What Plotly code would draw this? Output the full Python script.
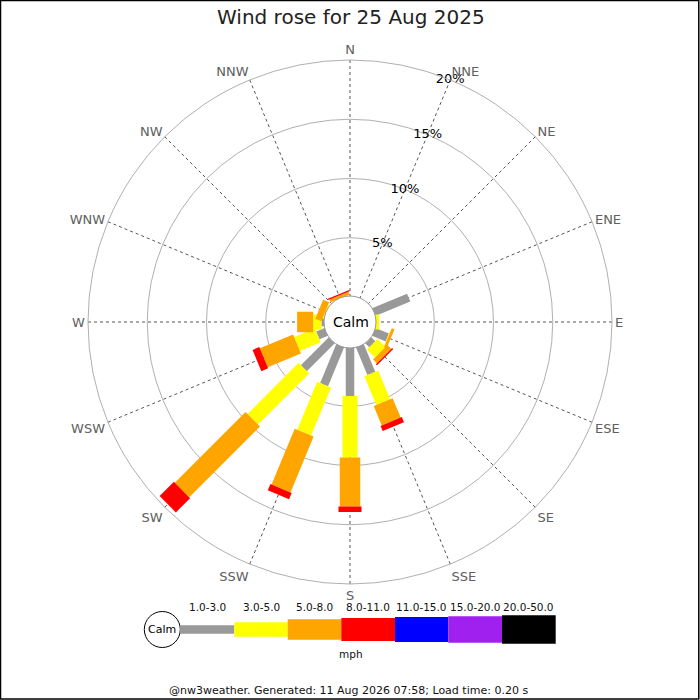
import plotly.graph_objects as go

# ---------------- data ----------------
directions = ["N", "NNE", "NE", "ENE", "E", "ESE", "SE", "SSE",
              "S", "SSW", "SW", "WSW", "W", "WNW", "NW", "NNW"]
dir_angles = [0, 22.5, 45, 67.5, 90, 112.5, 135, 157.5,
              180, 202.5, 225, 247.5, 270, 292.5, 315, 337.5]

speed_bins = ["1.0-3.0", "3.0-5.0", "5.0-8.0", "8.0-11.0",
              "11.0-15.0", "15.0-20.0", "20.0-50.0"]
speed_unit = "mph"

# percentage of time per direction, per speed bin
f_1_3 = [0, 0, 0, 3.25, 0, 1.3, 0.55, 2.59, 4.13, 3.6, 3.4, 0.83, 0.3, 0, 0, 0]
f_3_5 = [0, 0, 0, 0, 0.35, 0.05, 0.95, 2.62, 5.2, 4.4, 6.1, 1.9, 0.7, 0.15, 0, 0.05]
f_5_8 = [0, 0, 0, 0, 0, 0.25, 0.45, 1.77, 4.13, 5.1, 8.44, 3.04, 1.35, 0.55, 0, 0.25]
f_8_11 = [0, 0, 0, 0, 0, 0, 0.13, 0.46, 0.47, 0.57, 1.7, 0.62, 0, 0, 0, 0.12]
f_11_15 = [0] * 16
f_15_20 = [0] * 16
f_20_50 = [0] * 16
series = [f_1_3, f_3_5, f_5_8, f_8_11, f_11_15, f_15_20, f_20_50]

radial_ticks = [5, 10, 15, 20]
radial_labels = ["5%", "10%", "15%", "20%"]

title_text = "Wind rose for 25 Aug 2025"
footer_text = "@nw3weather. Generated: 11 Aug 2026 07:58; Load time: 0.20 s"

# ---------------- style ----------------
colors = ["#999999", "#ffff00", "#ffa500", "#ff0000", "#0000ff", "#a020f0", "#000000"]
bar_px = [8.5, 15, 20.5, 23, 25, 27, 28.5]
FONT = "DejaVu Sans"
W = H = 700


def px(x):
    return x / W


def py(y):
    return 1 - y / H


fig = go.Figure()

cum = [0.0] * len(directions)
for k, vals in enumerate(series):
    rr, tt = [], []
    for i, v in enumerate(vals):
        if v > 0:
            rr += [cum[i], cum[i] + v, None]
            tt += [dir_angles[i], dir_angles[i], None]
            cum[i] += v
    if rr:
        fig.add_trace(go.Scatterpolar(
            r=rr, theta=tt, mode="lines",
            line=dict(color=colors[k], width=bar_px[k]),
            connectgaps=False, hoverinfo="skip", showlegend=False))

# radial tick labels centered on the NNE spoke
fig.add_trace(go.Scatterpolar(
    r=radial_ticks, theta=[22.5] * len(radial_ticks), mode="text",
    text=radial_labels, textposition="middle center",
    textfont=dict(family=FONT, size=13, color="#000000"),
    cliponaxis=False, hoverinfo="skip", showlegend=False))

cx, cy, R = 350, 322, 262
hole_px = 25

fig.update_layout(
    width=W, height=H,
    margin=dict(l=0, r=0, t=0, b=0),
    paper_bgcolor="white",
    showlegend=False,
    font=dict(family=FONT),
    polar=dict(
        domain=dict(x=[px(cx - R), px(cx + R)], y=[py(cy + R), py(cy - R)]),
        hole=hole_px / R,
        bgcolor="white",
        radialaxis=dict(range=[0, 20], tickvals=radial_ticks, showticklabels=False,
                        ticks="", showline=False, gridcolor="#b0b0b0", gridwidth=1),
        angularaxis=dict(rotation=90, direction="clockwise", thetaunit="degrees",
                         tickvals=dir_angles, ticktext=directions, ticks="",
                         showline=True, linecolor="#b0b0b0", linewidth=1,
                         gridcolor="#555555", griddash="dot", gridwidth=1,
                         tickfont=dict(family=FONT, size=13, color="#606060")),
    ),
)

shapes = []
annotations = []

# calm circle in the centre
shapes.append(dict(type="circle", xref="paper", yref="paper", layer="above",
                   x0=px(cx - 26), x1=px(cx + 26), y0=py(cy + 26), y1=py(cy - 26),
                   fillcolor="white", line=dict(color="#999999", width=1)))
annotations.append(dict(x=px(cx + 1), y=py(cy), xref="paper", yref="paper",
                        text="Calm", showarrow=False, xanchor="center", yanchor="middle",
                        font=dict(family=FONT, size=14, color="#000000")))

# title & footer
annotations.append(dict(x=px(351), y=py(17), xref="paper", yref="paper", text=title_text,
                        showarrow=False, xanchor="center", yanchor="middle",
                        font=dict(family=FONT, size=20, color="#222222")))
annotations.append(dict(x=px(348), y=py(690), xref="paper", yref="paper", text=footer_text,
                        showarrow=False, xanchor="center", yanchor="middle",
                        font=dict(family=FONT, size=11, color="#111111")))

# legend
leg_cy = 629.5
leg_edges = [180, 234.3, 287.7, 341.3, 395, 448.3, 502, 555.7]
leg_h = [8.3, 14.3, 20.3, 23, 25, 26.7, 28.3]
shapes.append(dict(type="circle", xref="paper", yref="paper",
                   x0=px(162.3 - 18), x1=px(162.3 + 18), y0=py(leg_cy + 18), y1=py(leg_cy - 18),
                   fillcolor="white", line=dict(color="#000000", width=1)))
annotations.append(dict(x=px(162.3), y=py(leg_cy), xref="paper", yref="paper", text="Calm",
                        showarrow=False, xanchor="center", yanchor="middle",
                        font=dict(family=FONT, size=11, color="#000000")))
for k, lab in enumerate(speed_bins):
    x0, x1 = leg_edges[k], leg_edges[k + 1]
    shapes.append(dict(type="rect", xref="paper", yref="paper",
                       x0=px(x0), x1=px(x1),
                       y0=py(leg_cy + leg_h[k] / 2), y1=py(leg_cy - leg_h[k] / 2),
                       fillcolor=colors[k], line=dict(width=0)))
    annotations.append(dict(x=px((x0 + x1) / 2), y=py(606.5), xref="paper", yref="paper",
                            text=lab, showarrow=False, xanchor="center", yanchor="middle",
                            font=dict(family=FONT, size=10.5, color="#111111")))
annotations.append(dict(x=px(350.7), y=py(654), xref="paper", yref="paper", text=speed_unit,
                        showarrow=False, xanchor="center", yanchor="middle",
                        font=dict(family=FONT, size=10.5, color="#111111")))

# outer frame
shapes.append(dict(type="rect", xref="paper", yref="paper", layer="above",
                   x0=px(0.5), x1=px(698.8), y0=py(699), y1=py(0.5),
                   fillcolor="rgba(0,0,0,0)", line=dict(color="#000000", width=1.5)))

fig.update_layout(shapes=shapes, annotations=annotations)

fig.write_html("out.html", config={"displayModeBar": False},
               post_script="document.body.style.margin='0px';document.body.style.overflow='hidden';")
